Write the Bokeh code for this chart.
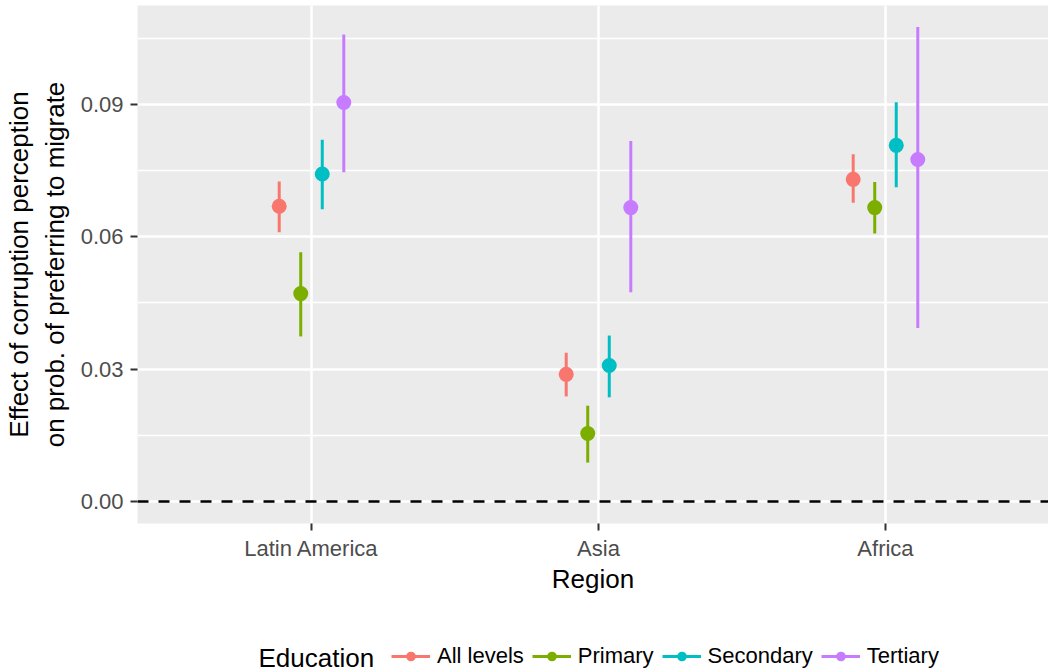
import numpy as np
from bokeh.plotting import figure
from bokeh.layouts import column
from bokeh.models import (FixedTicker, Span, Legend, LegendItem, Label,
                          ColumnDataSource, Range1d, NumeralTickFormatter)
from bokeh.embed import file_html
from bokeh.resources import INLINE

# ---------------- data ----------------
regions = ["Latin America", "Asia", "Africa"]
education = ["All levels", "Primary", "Secondary", "Tertiary"]

est_all = [0.0669, 0.0288, 0.0730]
lo_all = [0.0610, 0.0238, 0.0677]
hi_all = [0.0725, 0.0337, 0.0787]

est_primary = [0.0471, 0.0154, 0.0666]
lo_primary = [0.0374, 0.0088, 0.0607]
hi_primary = [0.0565, 0.0217, 0.0724]

est_secondary = [0.0742, 0.0308, 0.0807]
lo_secondary = [0.0662, 0.0236, 0.0712]
hi_secondary = [0.0820, 0.0376, 0.0905]

est_tertiary = [0.0904, 0.0666, 0.0775]
lo_tertiary = [0.0746, 0.0474, 0.0393]
hi_tertiary = [0.1058, 0.0817, 0.1075]

y_ticks = [0.00, 0.03, 0.06, 0.09]
y_minor = [0.015, 0.045, 0.075, 0.105]

# ---------------- style ----------------
colors = ["#F8766D", "#7CAE00", "#00BFC4", "#C77CFF"]
dodge_offsets = [-0.1125, -0.0375, 0.0375, 0.1125]
FONT = "Liberation Sans"

series = [
    (education[0], est_all, lo_all, hi_all),
    (education[1], est_primary, lo_primary, hi_primary),
    (education[2], est_secondary, lo_secondary, hi_secondary),
    (education[3], est_tertiary, lo_tertiary, hi_tertiary),
]

# ---------------- main plot ----------------
p = figure(width=1048, height=620, output_backend="svg", toolbar_location=None,
           x_range=Range1d(0.3937, 3.568), y_range=Range1d(-0.005, 0.1124),
           min_border_left=137, min_border_right=0, min_border_top=5,
           min_border_bottom=97)
p.background_fill_color = "#EBEBEB"
p.border_fill_color = "white"
p.outline_line_color = None

p.xgrid.ticker = FixedTicker(ticks=[1, 2, 3])
p.xgrid.grid_line_color = "white"
p.xgrid.grid_line_width = 2.5
p.ygrid.ticker = FixedTicker(ticks=y_ticks, minor_ticks=y_minor)
p.ygrid.grid_line_color = "white"
p.ygrid.grid_line_width = 2.5
p.ygrid.minor_grid_line_color = "white"
p.ygrid.minor_grid_line_width = 1.3

p.xaxis.ticker = FixedTicker(ticks=[1, 2, 3])
p.xaxis.major_label_overrides = {i + 1: r for i, r in enumerate(regions)}
p.yaxis.ticker = FixedTicker(ticks=y_ticks)
p.yaxis.formatter = NumeralTickFormatter(format="0.00")
for ax in (p.xaxis[0], p.yaxis[0]):
    ax.axis_line_color = None
    ax.major_tick_line_color = "#333333"
    ax.major_tick_line_width = 2
    ax.major_tick_out = 7
    ax.major_tick_in = 0
    ax.minor_tick_line_color = None
    ax.major_label_text_font = FONT
    ax.major_label_text_font_size = "22px"
    ax.major_label_text_color = "#4D4D4D"
    ax.axis_label_text_font = FONT
    ax.axis_label_text_font_size = "26px"
    ax.axis_label_text_font_style = "normal"
    ax.axis_label_text_color = "black"
p.xaxis.axis_label = "Region"
p.xaxis.major_label_standoff = 5
p.xaxis.axis_label_standoff = 0
p.yaxis.axis_label = "Effect of corruption perception\non prob. of preferring to migrate"
p.yaxis.major_label_standoff = 7
p.yaxis.axis_label_standoff = 8

p.add_layout(Span(location=0, dimension="width", line_color="black",
                  line_width=2.5, line_dash="11 10"))

for (name, est, lo, hi), off, c in zip(series, dodge_offsets, colors):
    xs = [i + 1 + off for i in range(len(regions))]
    src = ColumnDataSource(dict(x=xs, y=est, lo=lo, hi=hi))
    p.segment(x0="x", y0="lo", x1="x", y1="hi", source=src,
              line_color=c, line_width=3)
    p.scatter(x="x", y="y", source=src, size=15, fill_color=c,
              line_color=c, line_width=0)

# ---------------- legend strip ----------------
# (its frame is aligned with the main plot's frame, which starts at x=137)
lf = figure(width=1048, height=52, output_backend="svg", toolbar_location=None,
            x_range=Range1d(0, 1), y_range=Range1d(0, 1),
            min_border_left=0, min_border_right=0, min_border_top=0,
            min_border_bottom=0)
lf.axis.visible = False
lf.grid.visible = False
lf.outline_line_color = None
lf.background_fill_color = "white"
lf.border_fill_color = "white"

# legend key glyphs: one placeholder each, outside the strip's visible range
key_src = ColumnDataSource(dict(x=[-1.0], y=[-1.0]))
items = []
for name, c in zip(education, colors):
    kseg = lf.segment(x0="x", y0="y", x1="x", y1="y", source=key_src,
                      line_color=c, line_width=3)
    kpt = lf.scatter(x="x", y="y", source=key_src, size=12, fill_color=c,
                     line_color=c, line_width=0)
    items.append(LegendItem(label=name, renderers=[kseg, kpt]))

legend = Legend(items=items, orientation="horizontal", location=(254, 3),
                glyph_width=39, glyph_height=24, label_standoff=7, spacing=8,
                padding=0, margin=0, border_line_color=None,
                background_fill_alpha=0,
                label_text_font=FONT, label_text_font_size="22px",
                label_text_color="black")
lf.add_layout(legend)
lf.add_layout(Label(x=121, y=15, x_units="screen", y_units="screen",
                    text="Education", text_font=FONT, text_font_size="26px",
                    text_baseline="middle", text_color="black"))

open("out.html", "w").write(file_html(column(p, lf, spacing=0), INLINE))
